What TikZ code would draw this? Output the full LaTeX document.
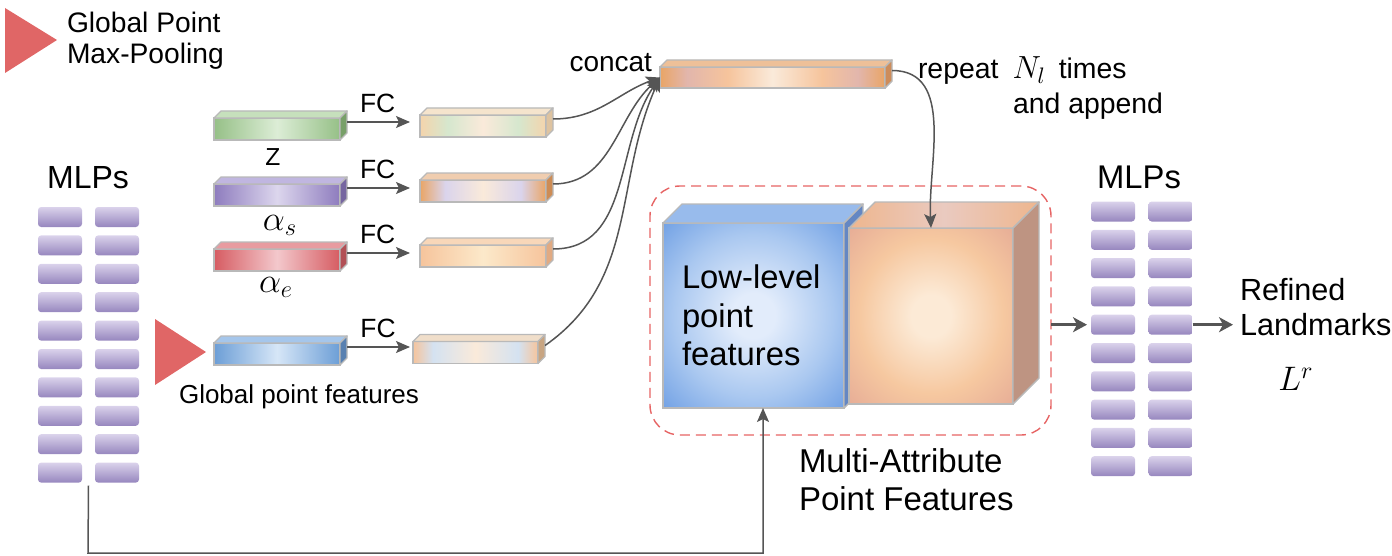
\RequirePackage{fix-cm}
\documentclass[tikz,border=0pt]{standalone}
\usepackage{fontspec}
\setmainfont{Liberation Sans}
\usetikzlibrary{
  positioning,     % below=of etc.
  calc,            % midpoints between blocks
  arrows.meta      % stealth tips
}

\definecolor{edge}{RGB}{185,185,185}
\definecolor{arrgray}{RGB}{85,85,85}
\definecolor{pool}{RGB}{224,102,102}
\definecolor{dash}{RGB}{230,100,100}
\definecolor{z-out}{RGB}{150,192,135}
\definecolor{z-in}{RGB}{220,237,214}
\definecolor{z-top}{RGB}{198,224,188}
\definecolor{z-side}{RGB}{120,160,105}
\definecolor{s-out}{RGB}{142,124,190}
\definecolor{s-in}{RGB}{220,214,237}
\definecolor{s-top}{RGB}{192,182,224}
\definecolor{s-side}{RGB}{118,102,160}
\definecolor{e-out}{RGB}{214,92,98}
\definecolor{e-in}{RGB}{243,200,204}
\definecolor{e-top}{RGB}{232,155,160}
\definecolor{e-side}{RGB}{178,80,86}
\definecolor{g-out}{RGB}{108,158,214}
\definecolor{g-in}{RGB}{214,230,247}
\definecolor{g-top}{RGB}{165,198,235}
\definecolor{g-side}{RGB}{88,128,176}
\definecolor{mlp-top}{RGB}{218,210,235}
\definecolor{mlp-bot}{RGB}{150,134,190}
\definecolor{lo-in}{RGB}{226,236,251}
\definecolor{lo-mid}{RGB}{170,200,240}
\definecolor{lo-out}{RGB}{112,160,228}
\definecolor{lo-top}{RGB}{152,187,236}
\definecolor{lo-side}{RGB}{100,135,195}
\definecolor{ma-in}{RGB}{252,234,214}
\definecolor{ma-mid}{RGB}{246,200,160}
\definecolor{ma-out}{RGB}{230,172,150}
\definecolor{ma-topa}{RGB}{238,182,142}
\definecolor{ma-topb}{RGB}{234,202,192}
\definecolor{ma-side}{RGB}{190,148,130}
% output bars
\definecolor{or-a}{RGB}{244,212,172}
\definecolor{or-b}{RGB}{233,165,102}
\definecolor{or-c}{RGB}{250,234,218}
\definecolor{or-d}{RGB}{246,196,156}
\definecolor{or-e}{RGB}{252,233,202}
\definecolor{gr-t}{RGB}{214,231,206}
\definecolor{pu-t}{RGB}{218,212,236}
\definecolor{bl-t}{RGB}{212,226,241}
\definecolor{pk-t}{RGB}{226,182,172}
\definecolor{o1-top}{RGB}{245,228,205}
\definecolor{o1-side}{RGB}{222,195,160}
\definecolor{o2-top}{RGB}{240,205,175}
\definecolor{o2-side}{RGB}{205,140,85}
\definecolor{o3-top}{RGB}{248,215,185}
\definecolor{o3-side}{RGB}{225,170,130}
\definecolor{o4-top}{RGB}{240,222,202}
\definecolor{o4-side}{RGB}{200,165,130}
\definecolor{cc-top}{RGB}{238,192,152}
\definecolor{cc-side}{RGB}{205,140,90}

\pgfdeclarehorizontalshading{out-z}{100bp}{color(0bp)=(or-a); color(25bp)=(or-a);
  color(36bp)=(gr-t); color(50bp)=(or-c); color(64bp)=(gr-t); color(75bp)=(or-a); color(100bp)=(or-a)}
\pgfdeclarehorizontalshading{out-s}{100bp}{color(0bp)=(or-b); color(25bp)=(or-b);
  color(35bp)=(pu-t); color(50bp)=(or-c); color(65bp)=(pu-t); color(75bp)=(or-b); color(100bp)=(or-b)}
\pgfdeclarehorizontalshading{out-e}{100bp}{color(0bp)=(or-d); color(25bp)=(or-d);
  color(50bp)=(or-e); color(75bp)=(or-d); color(100bp)=(or-d)}
\pgfdeclarehorizontalshading{out-g}{100bp}{color(0bp)=(or-d); color(25bp)=(or-d);
  color(33bp)=(bl-t); color(50bp)=(or-c); color(67bp)=(bl-t); color(75bp)=(or-d); color(100bp)=(or-d)}
\pgfdeclarehorizontalshading{out-cc}{100bp}{color(0bp)=(or-b); color(25bp)=(or-b);
  color(31bp)=(pk-t); color(40bp)=(or-d); color(50bp)=(or-c); color(61bp)=(or-d);
  color(69bp)=(pk-t); color(75bp)=(or-b); color(100bp)=(or-b)}
\pgfdeclareradialshading{lo-glow}{\pgfpoint{0bp}{0bp}}{color(0bp)=(lo-in);
  color(6bp)=(lo-in); color(22bp)=(lo-mid); color(36bp)=(lo-out); color(50bp)=(lo-out)}
\pgfdeclareradialshading{ma-glow}{\pgfpoint{0bp}{0bp}}{color(0bp)=(ma-in);
  color(6bp)=(ma-in); color(22bp)=(ma-mid); color(36bp)=(ma-out); color(50bp)=(ma-out)}

% top and right face of a box drawn behind a node
\newcommand\boxfaces[4]{%
  \path[face,#3] (#1.north west) -- ++(#2,#2) -- ([shift={(#2,#2)}]#1.north east)
    -- (#1.north east) -- cycle;
  \path[face,#4] (#1.north east) -- ++(#2,#2) -- ([shift={(#2,#2)}]#1.south east)
    -- (#1.south east) -- cycle;
}

\tikzset{
  every node/.style = {inner sep=0pt, outer sep=0pt},
  bar/.style = {draw=edge, line width=0.7pt, minimum width=63pt, minimum height=11pt},
  face/.style = {draw=edge, line width=0.7pt, line join=round},
  cube/.style = {draw=edge, line width=0.8pt, shade},
  mlp/.style = {rounded corners=1.6pt, minimum width=22pt, minimum height=10pt,
    top color=mlp-top, bottom color=mlp-bot},
  mapbox/.style = {draw=dash, line width=0.7pt, dash pattern=on 5pt off 3pt,
    rounded corners=15pt},
  arr/.style = {draw=arrgray, line width=0.75pt,
    -{Stealth[length=7pt,width=6pt,inset=1.5pt]}},
  bigarr/.style = {draw=arrgray, line width=1.4pt,
    -{Stealth[length=7pt,width=7.5pt,inset=2pt]}},
  lbl/.style = {align=left, font=\fontsize{15}{19}\selectfont},
  fc/.style = {font=\fontsize{13.2}{13.2}\selectfont},
  sym/.style = {font=\fontsize{17.5}{17.5}\selectfont}
}

\begin{document}
\begin{tikzpicture}[x=0.5pt, y=-0.5pt]
  \useasboundingbox (0,0) rectangle (1392,556);

  %% legend
  \fill[pool] (5,8) -- (57,40) -- (5,73) -- cycle;
  \node[lbl, font=\fontsize{14.1}{15.5}\selectfont, anchor=north west] (legend) at (67,12)
    {Global Point\\Max-Pooling};

  %% MLP columns
  \foreach \r in {0,...,9} {
    \node[mlp] (la\r) at (60,{217+28.4*\r}) {};
    \node[mlp] (lb\r) at (117,{217+28.4*\r}) {};
    \node[mlp] (ra\r) at (1113,{211.5+28.3*\r}) {};
    \node[mlp] (rb\r) at (1170.5,{211.5+28.3*\r}) {};
  }
  \node[font=\fontsize{16}{16}\selectfont] (mlpl) at (88,178) {MLPs};
  \node[font=\fontsize{16.4}{16.4}\selectfont] (mlpr) at (1139,177) {MLPs};

  %% attribute bars
  \node[bar, left color=z-out, right color=z-out, middle color=z-in] (zb) at (277,129) {};
  \node[bar, left color=s-out, right color=s-out, middle color=s-in] (sb) at (277,195) {};
  \node[bar, left color=e-out, right color=e-out, middle color=e-in] (eb) at (277,260) {};
  \node[bar, left color=g-out, right color=g-out, middle color=g-in] (gb) at (277,354) {};
  \boxfaces{zb}{3.5pt}{fill=z-top}{fill=z-side}
  \boxfaces{sb}{3.5pt}{fill=s-top}{fill=s-side}
  \boxfaces{eb}{3.5pt}{fill=e-top}{fill=e-side}
  \boxfaces{gb}{3.5pt}{fill=g-top}{fill=g-side}

  \node[below=4.5pt of zb, xshift=-2pt, font=\fontsize{12.3}{12.3}\selectfont] (zl) {Z};
  \node[below=4.5pt of sb, xshift=1.5pt, sym] (sl) {$\alpha_s$};
  \node[below=3pt of eb, xshift=-0.5pt, sym] (el) {$\alpha_e$};
  \node[below=10pt of gb, xshift=11pt, font=\fontsize{13}{13}\selectfont] (gl)
    {Global point features};
  \fill[pool] (155,319) -- (206,352) -- (155,385) -- cycle;

  %% bars after FC
  \node[bar, shade, shading=out-z] (o1) at (483,126) {};
  \node[bar, shade, shading=out-s] (o2) at (483,191) {};
  \node[bar, shade, shading=out-e] (o3) at (483,256) {};
  \node[bar, shade, shading=out-g, minimum width=62.5pt] (o4) at (475.5,352.5) {};
  \boxfaces{o1}{3.5pt}{fill=o1-top}{fill=o1-side}
  \boxfaces{o2}{3.5pt}{fill=o2-top}{fill=o2-side}
  \boxfaces{o3}{3.5pt}{fill=o3-top}{fill=o3-side}
  \boxfaces{o4}{3.5pt}{fill=o4-top}{fill=o4-side}

  %% concat bar
  \node[bar, shade, shading=out-cc, minimum width=112.5pt, minimum height=10.5pt] (cc)
    at (772.5,77.5) {};
  \boxfaces{cc}{3.5pt}{fill=cc-top}{fill=cc-side}
  \node[left=4pt of cc, yshift=7.3pt, font=\fontsize{14}{14}\selectfont] (ccl) {concat};
  \node[anchor=north west, align=left, font=\fontsize{14.2}{17.5}\selectfont] (rep)
    at (918,57) {repeat\hspace{7pt}{\fontsize{16}{16}\selectfont$N_l$}\hspace{6.5pt}times\\
    \hspace*{47.5pt}and append};

  %% multi-attribute point features
  \node[mapbox, minimum width=200.5pt, minimum height=124.5pt] (mapf) at (850.5,310.5) {};
  \node[cube, shading=lo-glow, minimum width=90.5pt,
    minimum height=92.5pt] (lo) at (753.5,315.5) {};
  \boxfaces{lo}{9.5pt}{fill=lo-top}{fill=lo-side}
  \node[cube, shading=ma-glow, minimum width=82pt,
    minimum height=88pt] (ma) at (931,316) {};
  \boxfaces{ma}{13pt}{left color=ma-topa, right color=ma-topa, middle color=ma-topb}{fill=ma-side}
  \node[lbl, font=\fontsize{16.4}{19.25}\selectfont, anchor=north west] (lol)
    at ([shift={(9.5pt,-21pt)}]lo.north west) {Low-level\\point\\features};
  \node[lbl, font=\fontsize{16.5}{19}\selectfont, anchor=north west] (mapl) at (799,449)
    {Multi-Attribute\\Point Features};

  %% output
  \node[lbl, font=\fontsize{15.3}{17.5}\selectfont, anchor=north west] (ref) at (1240,278)
    {Refined\\Landmarks};
  \node[font=\fontsize{17}{17}\selectfont] (lr) at (1296,379) {$L^r$};

  %% arrows
  \draw[arr, shorten >=5pt] ([shift={(3.5pt,3.5pt)}]zb.east) coordinate (zs) -- (zs -| o1.west)
    node[fc, pos=0.42, above=4.5pt] {FC};
  \draw[arr, shorten >=5pt] ([shift={(3.5pt,3.5pt)}]sb.east) coordinate (ss) -- (ss -| o2.west)
    node[fc, pos=0.42, above=4.5pt] {FC};
  \draw[arr, shorten >=5pt] ([shift={(3.5pt,3.5pt)}]eb.east) coordinate (es) -- (es -| o3.west)
    node[fc, pos=0.42, above=4.5pt] {FC};
  \draw[arr, shorten >=1.5pt] ([shift={(3.5pt,3.5pt)}]gb.east) coordinate (gs) -- (gs -| o4.west)
    node[fc, pos=0.47, above=4.5pt] {FC};

  \draw[arr] ([shift={(3.5pt,3.5pt)}]o1.east) to[out=0, in=200] (cc.west);
  \draw[arr] ([shift={(3.5pt,3.5pt)}]o2.east) to[out=0, in=222] (cc.west);
  \draw[arr] ([shift={(3.5pt,3.5pt)}]o3.east) to[out=0, in=235] (cc.west);
  \draw[arr] ([shift={(3.5pt,3.5pt)}]o4.east) to[out=35, in=246] (cc.west);

  \draw[arr] ([shift={(3.5pt,3.5pt)}]cc.east) to[out=0, in=93] (ma.north);

  \coordinate (bend) at (88,553);
  \draw[arr] ($(la9.south east)!0.5!(lb9.south west)+(0,-1.5pt)$) -- (bend)
    -| ([xshift=4.75pt]lo.south);

  \draw[bigarr, shorten >=2pt] (mapf.east |- ra4) -- (ra4.west);
  \draw[bigarr, shorten >=3.5pt] (rb4.east) -- (ref.west |- rb4);

\end{tikzpicture}
\end{document}
